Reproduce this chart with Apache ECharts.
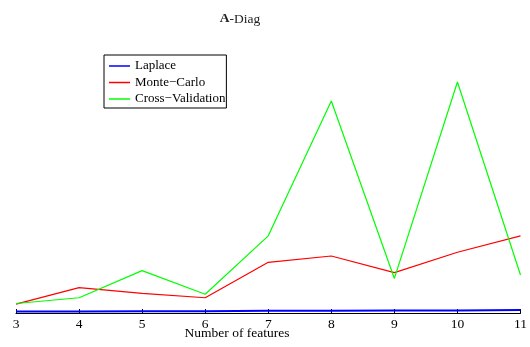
<!DOCTYPE html>
<html>
<head>
<meta charset="utf-8">
<script src="https://cdn.jsdelivr.net/npm/echarts@6/dist/echarts.min.js"></script>
<style>
  html, body { margin: 0; padding: 0; background: #fff; }
  #chart { width: 530px; height: 347px; }
</style>
</head>
<body>
<div id="chart"></div>
<script>
// data
const features = [3, 4, 5, 6, 7, 8, 9, 10, 11]
const laplace = [0.5, 0.55, 0.6, 0.65, 0.75, 0.8, 0.85, 0.9, 1.0]
const monteCarlo = [3.1, 8.8, 6.8, 5.3, 17.6, 19.8, 14.0, 21.1, 26.8]
const crossValidation = [3.3, 5.3, 14.7, 6.5, 26.8, 73.6, 12.0, 80.2, 13.2]

const serif = '"Liberation Serif", "DejaVu Serif", serif'

const pairs = (ys) => features.map((x, i) => [x, ys[i]])

const chart = echarts.init(document.getElementById('chart'), null, { renderer: 'canvas' })

chart.setOption({
  backgroundColor: '#fff',
  animation: false,
  title: {
    text: '{b|A}{n|-Diag}',
    left: 235,
    top: 7,
    textAlign: 'center',
    textStyle: {
      fontFamily: serif,
      fontSize: 13.5,
      fontWeight: 'normal',
      color: '#222',
      rich: {
        b: { fontFamily: serif, fontSize: 13.5, fontWeight: 'bold', color: '#222' },
        n: { fontFamily: serif, fontSize: 13.5, fontWeight: 'normal', color: '#222' }
      }
    }
  },
  legend: {
    orient: 'vertical',
    left: 104,
    top: 55,
    padding: [4, 1, 2, 5],
    icon: 'rect',
    itemWidth: 21,
    itemHeight: 1.5,
    itemGap: 2.5,
    borderColor: '#000',
    borderWidth: 1,
    backgroundColor: '#fff',
    textStyle: { fontFamily: serif, fontSize: 13, lineHeight: 14, color: '#000' },
    data: ['Laplace', 'Monte\u2212Carlo', 'Cross\u2212Validation']
  },
  grid: { left: 16, right: 8, top: 25, bottom: 34 },
  xAxis: {
    type: 'value',
    min: 3,
    max: 11,
    interval: 1,
    axisLine: { show: true, lineStyle: { color: '#000', width: 1 } },
    axisTick: { show: true, inside: true, length: 4, lineStyle: { color: '#000' } },
    axisLabel: { fontFamily: serif, fontSize: 13.5, color: '#000', margin: 4 },
    splitLine: { show: false }
  },
  yAxis: {
    type: 'value',
    min: 0,
    max: 100,
    show: false
  },
  graphic: [
    {
      type: 'text',
      x: 237,
      y: 326,
      style: {
        text: 'Number of features',
        font: '13.5px ' + serif,
        fill: '#000',
        textAlign: 'center'
      }
    }
  ],
  series: [
    {
      name: 'Laplace',
      type: 'line',
      symbol: 'none',
      lineStyle: { color: '#0000ff', width: 2 },
      itemStyle: { color: '#0000ff' },
      data: pairs(laplace),
      z: 3
    },
    {
      name: 'Monte\u2212Carlo',
      type: 'line',
      symbol: 'none',
      lineStyle: { color: '#ff0000', width: 1.2 },
      itemStyle: { color: '#ff0000' },
      data: pairs(monteCarlo)
    },
    {
      name: 'Cross\u2212Validation',
      type: 'line',
      symbol: 'none',
      lineStyle: { color: '#00ff00', width: 1.2 },
      itemStyle: { color: '#00ff00' },
      data: pairs(crossValidation)
    }
  ]
})
</script>
</body>
</html>
